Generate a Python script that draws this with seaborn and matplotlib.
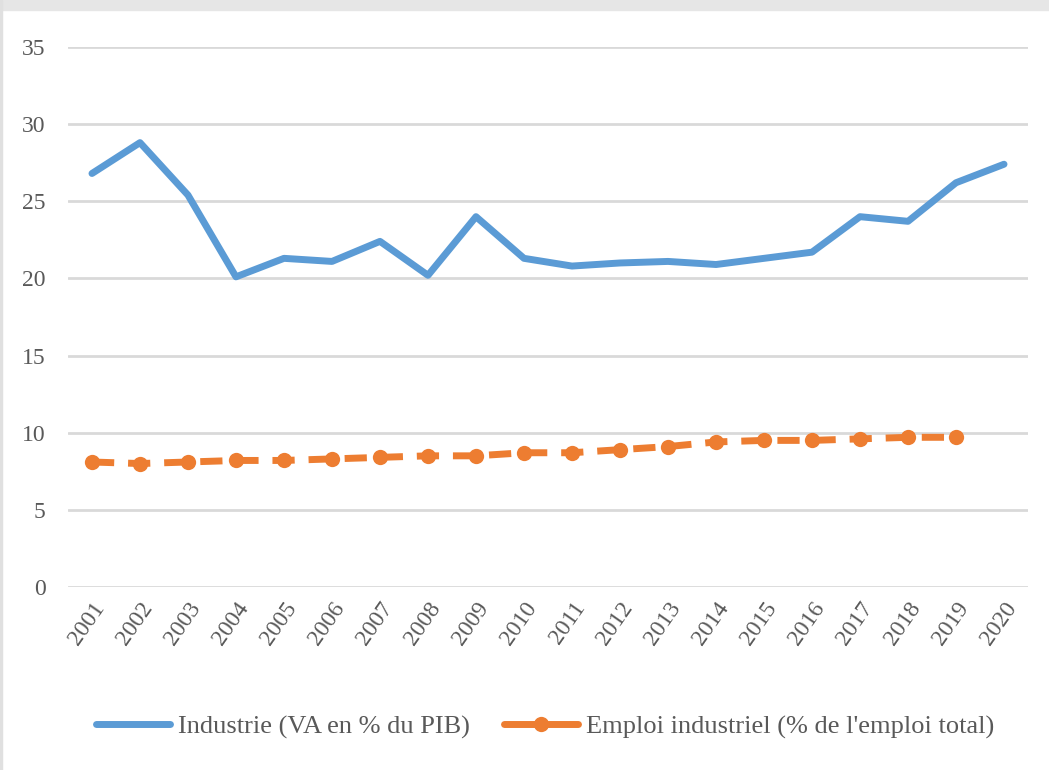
import matplotlib

matplotlib.use("Agg")
import matplotlib.pyplot as plt
import pandas as pd
import seaborn as sns
from matplotlib.lines import Line2D
from matplotlib.patches import Rectangle

YEARS = [str(y) for y in range(2001, 2021)]
INDUSTRIE = [26.8, 28.8, 25.4, 20.1, 21.3, 21.1, 22.4, 20.2, 24.0, 21.3,
             20.8, 21.0, 21.1, 20.9, 21.3, 21.7, 24.0, 23.7, 26.2, 27.4]
EMPLOI = [8.1, 8.0, 8.1, 8.2, 8.2, 8.3, 8.4, 8.5, 8.5, 8.7,
          8.7, 8.9, 9.1, 9.4, 9.5, 9.5, 9.6, 9.7, 9.7, None]
LABEL_IND = "Industrie (VA en % du PIB)"
LABEL_EMP = "Emploi industriel (% de l'emploi total)"

BLUE   = "#5B9BD5"
ORANGE = "#ED7D31"
GREY   = "#595959"

sns.set_style("white")
plt.rcParams["font.family"] = ["Liberation Serif", "DejaVu Serif"]

df = pd.DataFrame({"annee": YEARS, "ind": INDUSTRIE, "emp": EMPLOI})

fig = plt.figure(figsize=(10.49, 7.70), dpi=100)
fig.patches.append(Rectangle((0, 0.987), 1, 0.013, transform=fig.transFigure,
                             color="#E6E6E6", zorder=0))
fig.patches.append(Rectangle((0, 0), 0.002, 1, transform=fig.transFigure,
                             color="#E0E0E0", zorder=0))
ax = fig.add_axes([0.0648, 0.2377, 0.9152, 0.7013])

sns.lineplot(data=df, x="annee", y="ind", ax=ax, color=BLUE, linewidth=5,
             solid_capstyle="round", sort=False)
sns.lineplot(data=df.dropna(), x="annee", y="emp", ax=ax, color=ORANGE,
             linewidth=5, linestyle=(0, (3.2, 2)), marker="o", markersize=11,
             markeredgewidth=0, sort=False)

ax.set_xlim(-0.5, len(YEARS) - 0.5)
ax.set_ylim(0, 35)
ax.set_yticks(range(0, 36, 5))
ax.yaxis.grid(True, color="#D9D9D9", linewidth=2)
ax.set_axisbelow(True)
for s in ax.spines.values():
    s.set_visible(False)
ax.set_xlabel("")
ax.set_ylabel("")
ax.tick_params(axis="y", length=0, pad=16, labelsize=17, labelcolor=GREY)
ax.tick_params(axis="x", length=0, pad=8, labelsize=17, labelcolor=GREY)
plt.setp(ax.get_xticklabels(), rotation=55, ha="right", rotation_mode="anchor")

handles = [
    Line2D([], [], color=BLUE, linewidth=5, solid_capstyle="round"),
    Line2D([], [], color=ORANGE, linewidth=5, marker="o", markersize=11,
           markeredgewidth=0),
]
ax.legend(handles, [LABEL_IND, LABEL_EMP], loc="center",
          bbox_to_anchor=(0.497, -0.259), ncol=2, frameon=False,
          fontsize=19, labelcolor=GREY, handlelength=2.8, columnspacing=1.3,
          handletextpad=0.3)

plt.savefig("out.png", dpi=100)
plt.close()
